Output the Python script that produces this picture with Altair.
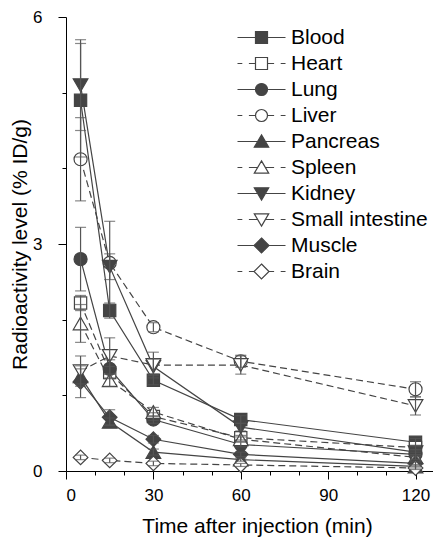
import altair as alt
import pandas as pd

times = [5, 15, 30, 60, 120]
organs = ["Blood", "Heart", "Lung", "Liver", "Pancreas", "Spleen",
          "Kidney", "Small intestine", "Muscle", "Brain"]
filled_organs = ["Blood", "Lung", "Pancreas", "Kidney", "Muscle"]
open_organs = ["Heart", "Liver", "Spleen", "Small intestine", "Brain"]

blood = [4.90, 2.12, 1.20, 0.68, 0.38]
heart = [2.22, 1.30, 0.72, 0.44, 0.31]
lung = [2.80, 1.35, 0.68, 0.35, 0.22]
liver = [4.12, 2.75, 1.90, 1.45, 1.08]
pancreas = [1.25, 0.65, 0.25, 0.15, 0.06]
spleen = [1.95, 1.20, 0.78, 0.42, 0.18]
kidney = [5.10, 2.70, 1.38, 0.58, 0.25]
small_intestine = [1.32, 1.52, 1.40, 1.40, 0.86]
muscle = [1.18, 0.71, 0.42, 0.22, 0.10]
brain = [0.18, 0.14, 0.10, 0.08, 0.04]

blood_sd = [0.75, 0.10, 0.06, 0.05, 0.05]
heart_sd = [0.10, 0.08, 0.05, 0.03, 0.03]
lung_sd = [0.42, 0.12, 0.05, 0.03, 0.03]
liver_sd = [0.55, 0.55, 0.06, 0.08, 0.10]
pancreas_sd = [0.10, 0.05, 0.04, 0.02, 0.02]
spleen_sd = [0.25, 0.08, 0.06, 0.03, 0.03]
kidney_sd = [0.60, 0.17, 0.10, 0.05, 0.03]
small_intestine_sd = [0.20, 0.24, 0.17, 0.12, 0.12]
muscle_sd = [0.21, 0.10, 0.05, 0.03, 0.02]
brain_sd = [0.03, 0.03, 0.03, 0.02, 0.02]

means = [blood, heart, lung, liver, pancreas, spleen, kidney,
         small_intestine, muscle, brain]
sds = [blood_sd, heart_sd, lung_sd, liver_sd, pancreas_sd, spleen_sd,
       kidney_sd, small_intestine_sd, muscle_sd, brain_sd]

rows = []
for organ, m, s in zip(organs, means, sds):
    for t, v, e in zip(times, m, s):
        rows.append({"organ": organ, "time": t, "value": v,
                     "lo": v - e, "hi": v + e})
df = pd.DataFrame(rows)

DARK = "#444444"
ERR = "#555555"
FONT = "Liberation Sans"

# marker groups: (vega shape, size, organs drawn with it)
marker_groups = [
    ("square", 150, ["Blood", "Heart"]),
    ("circle", 170, ["Lung", "Liver"]),
    ("triangle-up", 215, ["Pancreas", "Spleen"]),
    ("triangle-down", 215, ["Kidney", "Small intestine"]),
    ("diamond", 215, ["Muscle", "Brain"]),
]
fills = [DARK, "white"] * 5
strokes = [DARK] * 10

# legend symbols: marker plus line stub (solid or dashed)
sq = "M-1,-1H1V1H-1Z"
circ = "M-1,0A1,1,0,1,1,1,0A1,1,0,1,1,-1,0Z"
tri_up = "M0,-1.1L1.2,0.95L-1.2,0.95Z"
tri_dn = "M0,1.1L1.2,-0.95L-1.2,-0.95Z"
dia = "M0,-1.25L1.25,0L0,1.25L-1.25,0Z"


def solid(e):
    return f"M-4,0H{-e}M{e},0H4"


def dashed(e):
    return f"M-4,0H-3.2M-2.1,0H{-e}M{e},0H2.1M3.2,0H4"


legend_paths = [
    sq + solid(1), sq + dashed(1),
    circ + solid(1), circ + dashed(1),
    tri_up + solid(0.64), tri_up + dashed(0.64),
    tri_dn + solid(0.64), tri_dn + dashed(0.64),
    dia + solid(1.25), dia + dashed(1.25),
]

x_scale = alt.Scale(domain=[0, 126], nice=False, zero=False)
y_scale = alt.Scale(domain=[0, 6], nice=False)

x_axis = alt.Axis(
    values=list(range(0, 130, 10)),
    format="d",
    labelExpr="datum.value % 30 === 0 ? datum.label : ''",
    tickSize={"condition": {"test": "datum.value % 30 === 0", "value": 8}, "value": 4},
    title="Time after injection (min)",
    titleX=191,
    labelPadding=8,
    titlePadding=12,
)
y_axis = alt.Axis(
    values=list(range(0, 7)),
    format="d",
    labelExpr="datum.value % 3 === 0 ? datum.label : ''",
    tickSize={"condition": {"test": "datum.value % 3 === 0", "value": 8}, "value": 4},
    title="Radioactivity level (% ID/g)",
    labelPadding=16,
    titlePadding=2,
)

base = alt.Chart(df)
X = alt.X("time:Q", scale=x_scale, axis=x_axis)
Y = alt.Y("value:Q", scale=y_scale, axis=y_axis)

lines_solid = base.transform_filter(
    alt.FieldOneOfPredicate(field="organ", oneOf=filled_organs)
).mark_line(color=DARK, strokeWidth=1.2).encode(x=X, y=Y, detail="organ:N")

lines_dashed = base.transform_filter(
    alt.FieldOneOfPredicate(field="organ", oneOf=open_organs)
).mark_line(color=DARK, strokeWidth=1.2, strokeDash=[7, 4]).encode(x=X, y=Y, detail="organ:N")

point_layers = []
for shp, sz, group in marker_groups:
    point_layers.append(
        base.transform_filter(alt.FieldOneOfPredicate(field="organ", oneOf=group))
        .mark_point(shape=shp, size=sz, stroke=DARK, strokeWidth=1.2, opacity=1)
        .encode(
            x=X, y=Y,
            fill=alt.condition(alt.FieldOneOfPredicate(field="organ", oneOf=filled_organs),
                               alt.value(DARK), alt.value("white")),
        )
    )

err_rule = base.mark_rule(color=ERR, strokeWidth=1.2).encode(
    x=X, y=alt.Y("lo:Q", scale=y_scale), y2="hi:Q"
)
cap_hi = base.mark_tick(orient="horizontal", color=ERR, size=11, thickness=1.2).encode(
    x=X, y=alt.Y("hi:Q", scale=y_scale)
)
cap_lo = base.mark_tick(orient="horizontal", color=ERR, size=11, thickness=1.2).encode(
    x=X, y=alt.Y("lo:Q", scale=y_scale)
)

legend_props = dict(title=None, orient="none", legendX=185, legendY=10,
                    symbolSize=144, symbolOpacity=1, symbolStrokeColor=DARK,
                    symbolStrokeWidth=1.2,
                    labelOffset=19, labelFontSize=21, labelFont=FONT,
                    labelColor="black", rowPadding=4, labelLimit=300)

# invisible layer that only carries the legend
legend_layer = base.mark_point(
    stroke=DARK, strokeWidth=1.2, size=144, opacity=0
).encode(
    x=X, y=Y,
    shape=alt.Shape("organ:N", scale=alt.Scale(domain=organs, range=legend_paths),
                    legend=alt.Legend(**legend_props)),
    fill=alt.Fill("organ:N", scale=alt.Scale(domain=organs, range=fills),
                  legend=alt.Legend(**legend_props)),
    stroke=alt.Stroke("organ:N", scale=alt.Scale(domain=organs, range=strokes),
                      legend=alt.Legend(**legend_props)),
)

chart = alt.layer(lines_solid, lines_dashed, *point_layers, err_rule, cap_hi, cap_lo,
                  legend_layer).properties(
    width=367, height=454,
    autosize=alt.AutoSizeParams(type="none"),
    padding={"left": 58, "top": 9, "right": 0, "bottom": 67},
    background="white",
).configure_axis(
    domainColor="black", tickColor="black", grid=False,
    labelFont=FONT, labelFontSize=17, labelColor="black",
    titleFont=FONT, titleFontSize=21, titleFontWeight="normal", titleColor="black",
    domainWidth=1, tickWidth=1,
).configure_view(stroke=None)

chart.save("out.html", embed_options={"renderer": "svg", "actions": False})
